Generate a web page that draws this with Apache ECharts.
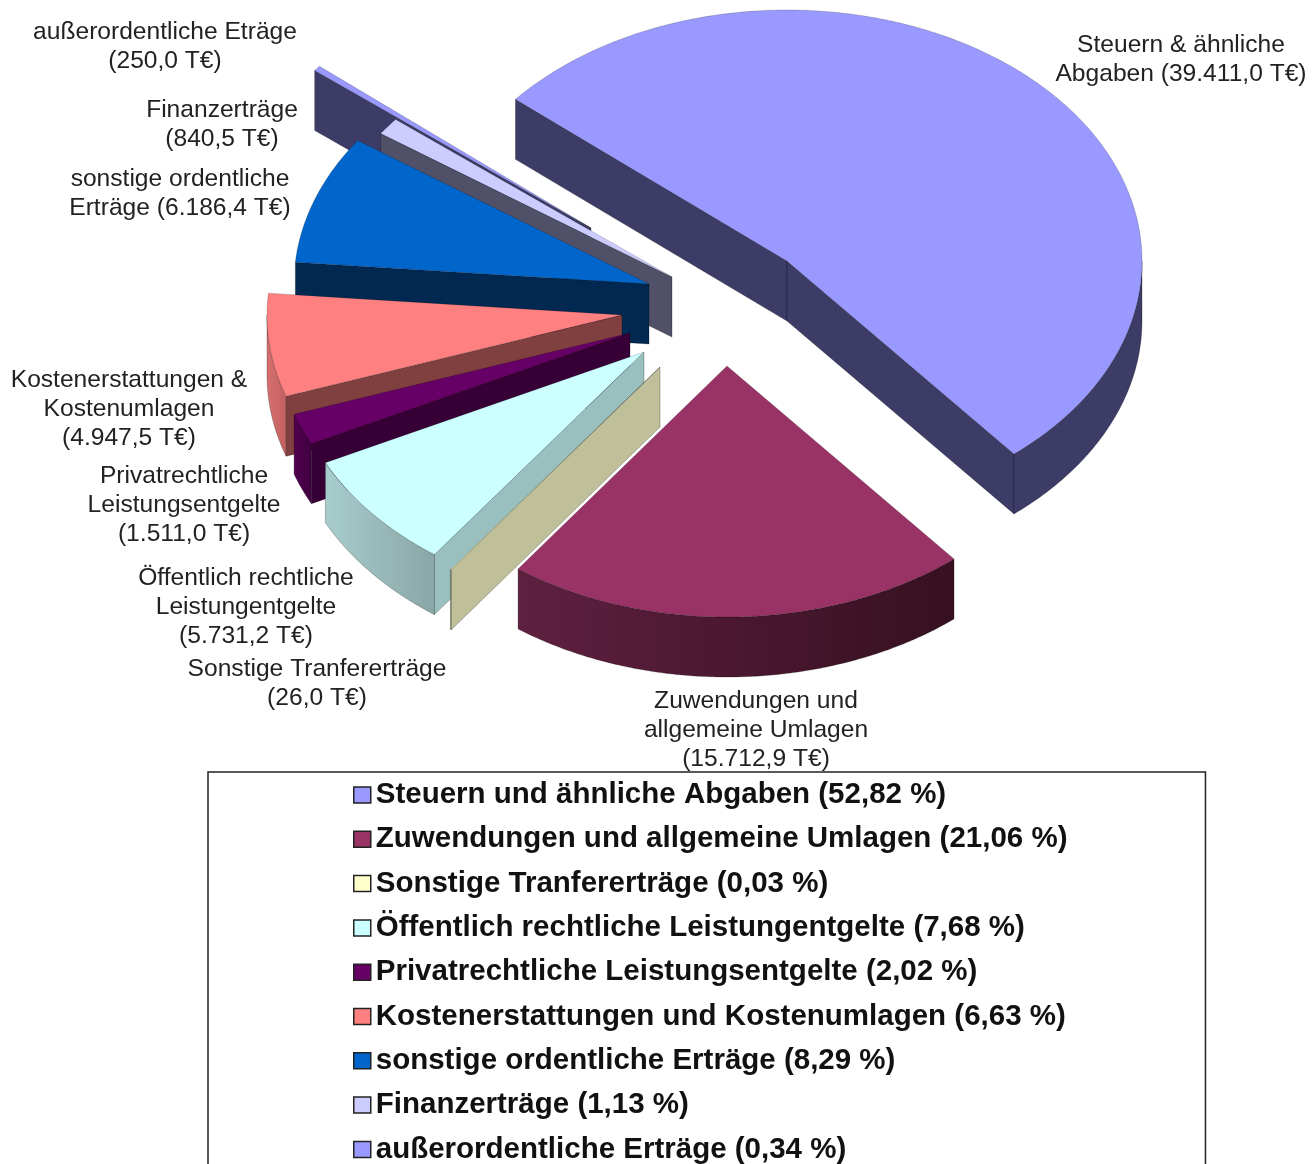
<!DOCTYPE html>
<html>
<head>
<meta charset="utf-8">
<title>Erträge</title>
<style>
    html, body { margin: 0; padding: 0; background: #fff; overflow: hidden; }
    #chart { width: 1315px; height: 1164px; }
</style>
<script src="https://cdn.jsdelivr.net/npm/echarts@6/dist/echarts.min.js"></script>
</head>
<body>
<div id="chart"></div>
<script>
    // values in T€, clockwise from the big slice
    const sliceValues = [39411.0, 15712.9, 26.0, 5731.2, 1511.0, 4947.5, 6186.4, 840.5, 250.0];
    const sliceLabels = [
        "Steuern & ähnliche\nAbgaben ",
        "Zuwendungen und\nallgemeine Umlagen\n",
        "Sonstige Tranfererträge\n",
        "Öffentlich rechtliche\nLeistungentgelte\n",
        "Privatrechtliche\nLeistungsentgelte\n",
        "Kostenerstattungen &\nKostenumlagen\n",
        "sonstige ordentliche\nErträge ",
        "Finanzerträge\n",
        "außerordentliche Eträge\n",
    ];
    const legendNames = [
        "Steuern und ähnliche Abgaben",
        "Zuwendungen und allgemeine Umlagen",
        "Sonstige Tranfererträge",
        "Öffentlich rechtliche Leistungentgelte",
        "Privatrechtliche Leistungsentgelte",
        "Kostenerstattungen und Kostenumlagen",
        "sonstige ordentliche Erträge",
        "Finanzerträge",
        "außerordentliche Erträge",
    ];
    const legendPercents = ["52,82", "21,06", "0,03", "7,68", "2,02", "6,63", "8,29", "1,13", "0,34"];

    const sliceColors = ["#9999FF", "#993366", "#FFFFCC", "#CCFFFF", "#660066", "#FF8080", "#0066CC", "#CCCCFF", "#9999FF"];
    const radialWallColors = ["#3C3C66", "#5F2040", "#BFBF99", "#99BFBF", "#360036", "#804040", "#002850", "#505068", "#3C3C66"];
    const arcWallColors = [
        ["#3C3C66", "#3C3C66"], ["#5F2040", "#361020"], ["#BFBF99", "#BFBF99"],
        ["#A8CCCC", "#8AA6A6"], ["#500050", "#400040"], ["#D87070", "#C06060"],
        ["#002850", "#002850"], ["#505068", "#505068"], ["#3C3C66", "#3C3C66"],
    ];

    // layout of the tilted pie
    const radiusX = 355;
    const radiusY = 251;
    const depth = 60;
    const firstAngle = -49.9;
    const sliceCentres = [[787, 261], [727, 366], [660, 367], [644, 352], [630, 333], [622, 315], [649, 284], [672, 277], [591, 228]];
    const labelCentres = [[1181, 60], [756, 730], [317, 684], [246, 607], [184, 505], [129, 409], [180, 194], [222, 125], [165, 47]];

    const total = sliceValues.reduce((a, b) => a + b, 0);
    const startAngles = [];
    sliceValues.reduce((angle, v, i) => {
        startAngles[i] = angle;
        return angle + v / total * 360;
    }, firstAngle);

    const rad = deg => deg * Math.PI / 180;
    const rimPoint = (c, t) => [c[0] + radiusX * Math.sin(rad(t)), c[1] - radiusY * Math.cos(rad(t))];
    const lower = p => [p[0], p[1] + depth];
    const edge = "rgba(0,0,0,0.35)";

    function arcPoints(c, t0, t1) {
        const pts = [];
        for (let t = t0; t < t1; t += 0.5) pts.push(rimPoint(c, t));
        pts.push(rimPoint(c, t1));
        return pts;
    }

    function formatValue(v) {
        return v.toLocaleString("de-DE", { minimumFractionDigits: 1, maximumFractionDigits: 1 });
    }

    function drawSlice(i, value) {
        const c = sliceCentres[i];
        const t0 = startAngles[i];
        const t1 = t0 + value / total * 360;
        const children = [];
        const wall = (points, fill) => children.push({
            type: "polygon",
            shape: { points: points },
            style: { fill: fill, stroke: edge, lineWidth: 0.7 },
        });
        // radial walls, only the ones that face the viewer
        if (Math.sin(rad(t0)) < 0) {
            const p = rimPoint(c, t0);
            wall([c, p, lower(p), lower(c)], radialWallColors[i]);
        }
        if (Math.sin(rad(t1)) > 0) {
            const p = rimPoint(c, t1);
            wall([c, p, lower(p), lower(c)], radialWallColors[i]);
        }
        // outer wall, front half of the ellipse only
        const a0 = Math.max(t0, 90);
        const a1 = Math.min(t1, 270);
        if (a1 > a0) {
            const rim = arcPoints(c, a0, a1);
            const colors = arcWallColors[i];
            wall(rim.concat(rim.map(lower).reverse()), new echarts.graphic.LinearGradient(0, 0, 1, 0, [
                { offset: 0, color: colors[0] },
                { offset: 1, color: colors[1] },
            ]));
        }
        // top face
        children.push({
            type: "polygon",
            shape: { points: [c].concat(arcPoints(c, t0, t1)) },
            style: { fill: sliceColors[i], stroke: edge, lineWidth: 0.5 },
        });
        children.push({
            type: "text",
            style: {
                text: sliceLabels[i] + "(" + formatValue(value) + " T€)",
                x: labelCentres[i][0],
                y: labelCentres[i][1],
                align: "center",
                verticalAlign: "middle",
                fill: "#222",
                fontSize: 24.6,
                fontFamily: "Liberation Sans",
                lineHeight: 29.2,
            },
        });
        return { type: "group", children: children };
    }

    const legendLabels = legendNames.map((name, i) => name + " (" + legendPercents[i] + " %)");

    const chart = echarts.init(document.getElementById("chart"));
    chart.setOption({
        animation: false,
        backgroundColor: "#fff",
        legend: {
            data: legendLabels,
            orient: "vertical",
            left: 208,
            top: 772,
            height: 430,
            padding: [8, 138, 6, 145],
            icon: "rect",
            itemWidth: 17,
            itemHeight: 16,
            itemGap: 14.3,
            selectedMode: false,
            borderColor: "#222",
            borderWidth: 1.5,
            itemStyle: { borderColor: "#222", borderWidth: 1.5 },
            textStyle: {
                color: "#111",
                fontSize: 29.5,
                fontWeight: "bold",
                fontFamily: "Liberation Sans",
                lineHeight: 30,
            },
        },
        series: sliceValues.map((v, i) => ({
            type: "custom",
            name: legendLabels[i],
            coordinateSystem: "none",
            z: 20 - i, // later slices sit behind the earlier ones
            itemStyle: { color: sliceColors[i] },
            data: [[v]],
            renderItem: (params, api) => drawSlice(i, api.value(0)),
        })),
    });
</script>
</body>
</html>
